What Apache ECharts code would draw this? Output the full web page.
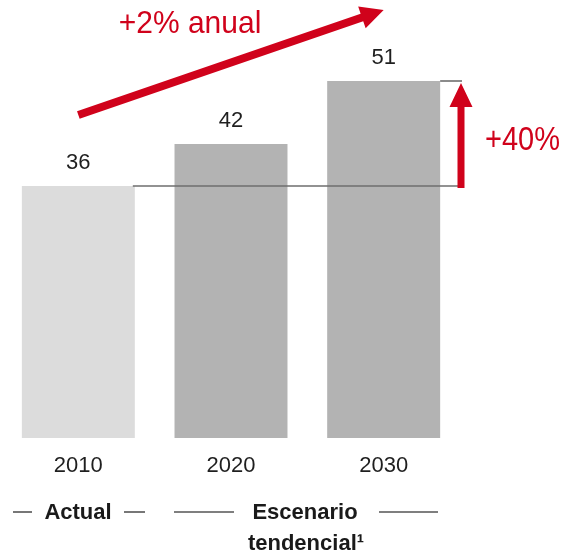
<!DOCTYPE html>
<html>
<head>
<meta charset="utf-8">
<script src="https://cdn.jsdelivr.net/npm/echarts@6/dist/echarts.min.js"></script>
<style>
html,body{margin:0;padding:0;background:#fff;}
#c{width:563px;height:553px;}
</style>
</head>
<body>
<div id="c"></div>
<script>
const categories = ['2010', '2020', '2030'];
const values = [36, 42, 51];
const barColors = ['#dcdcdc', '#b3b3b3', '#b3b3b3'];
const growthLabel = '+2% anual';
const changeLabel = '+40%';
const groupActual = 'Actual';
const groupScenario = ['Escenario', 'tendencial¹'];

const FONT = '"Liberation Sans", Arial, sans-serif';
const RED = '#d0021b';
const chart = echarts.init(document.getElementById('c'), null, {renderer: 'canvas'});

chart.setOption({
  animation: false,
  grid: {left: 2, right: 103, top: 18, bottom: 115, containLabel: false},
  xAxis: {
    type: 'category',
    data: categories,
    axisLine: {show: false},
    axisTick: {show: false},
    axisLabel: {fontFamily: FONT, fontSize: 22, color: '#1f1f1f', margin: 17}
  },
  yAxis: {type: 'value', min: 0, max: 60, show: false, splitLine: {show: false}},
  series: [{
    type: 'bar',
    barWidth: '74%',
    data: values.map((v, i) => ({value: v, itemStyle: {color: barColors[i]}})),
    label: {show: true, position: 'top', distance: 12, fontFamily: FONT, fontSize: 22, color: '#1f1f1f'}
  }]
});

function arrowPolygon(x1, y1, x2, y2, shaftW, headW, headL) {
  const dx = x2 - x1, dy = y2 - y1;
  const len = Math.sqrt(dx * dx + dy * dy);
  const ux = dx / len, uy = dy / len;
  const nx = -uy, ny = ux;
  const bx = x2 - ux * headL, by = y2 - uy * headL;
  return [
    [x1 + nx * shaftW / 2, y1 + ny * shaftW / 2],
    [bx + nx * shaftW / 2, by + ny * shaftW / 2],
    [bx + nx * headW / 2, by + ny * headW / 2],
    [x2, y2],
    [bx - nx * headW / 2, by - ny * headW / 2],
    [bx - nx * shaftW / 2, by - ny * shaftW / 2],
    [x1 - nx * shaftW / 2, y1 - ny * shaftW / 2]
  ];
}

const p1 = chart.convertToPixel({gridIndex: 0}, [0, values[0]]);
const p3 = chart.convertToPixel({gridIndex: 0}, [2, values[2]]);
const band = (p3[0] - p1[0]) / 2;
const barW = band * 0.74;
const rightX = p3[0] + band / 2 + 2;
const arrowX = rightX - 1;

const gray = '#6e6e6e';
const lineDark = '#555';
const graphics = [
  {type: 'line', shape: {x1: p1[0] + barW / 2 - 2, y1: p1[1], x2: rightX, y2: p1[1]}, style: {stroke: gray, lineWidth: 1.6}, z: 10},
  {type: 'line', shape: {x1: p3[0] + barW / 2, y1: p3[1], x2: rightX, y2: p3[1]}, style: {stroke: gray, lineWidth: 1.6}, z: 10},
  {type: 'polygon', shape: {points: arrowPolygon(arrowX, p1[1] + 2, arrowX, p3[1] + 2, 7, 23, 24)}, style: {fill: RED}, z: 11},
  {type: 'polygon', shape: {points: arrowPolygon(p1[0], 115, p3[0], 10, 8, 23, 23)}, style: {fill: RED}, z: 11},
  {type: 'text', x: 190, y: 24, scaleY: 1.05, style: {text: growthLabel, fontFamily: FONT, fontSize: 30, fill: RED, align: 'center', verticalAlign: 'middle'}, z: 12},
  {type: 'text', x: 485, y: 141, scaleY: 1.15, style: {text: changeLabel, fontFamily: FONT, fontSize: 29, fill: RED, align: 'left', verticalAlign: 'middle'}, z: 12},
  // bottom group labels
  {type: 'line', shape: {x1: 13, y1: 512, x2: 32, y2: 512}, style: {stroke: lineDark, lineWidth: 1.6}},
  {type: 'line', shape: {x1: 124, y1: 512, x2: 145, y2: 512}, style: {stroke: lineDark, lineWidth: 1.6}},
  {type: 'text', x: 78, y: 513, style: {text: groupActual, fontFamily: FONT, fontSize: 22, fontWeight: 'bold', fill: '#1a1a1a', align: 'center', verticalAlign: 'middle'}},
  {type: 'line', shape: {x1: 174, y1: 512, x2: 234, y2: 512}, style: {stroke: lineDark, lineWidth: 1.6}},
  {type: 'line', shape: {x1: 379, y1: 512, x2: 438, y2: 512}, style: {stroke: lineDark, lineWidth: 1.6}},
  {type: 'text', x: 305, y: 513, style: {text: groupScenario[0], fontFamily: FONT, fontSize: 22, fontWeight: 'bold', fill: '#1a1a1a', align: 'center', verticalAlign: 'middle'}},
  {type: 'text', x: 306, y: 544, style: {text: groupScenario[1], fontFamily: FONT, fontSize: 22, fontWeight: 'bold', fill: '#1a1a1a', align: 'center', verticalAlign: 'middle'}}
];
chart.setOption({graphic: graphics});
</script>
</body>
</html>
